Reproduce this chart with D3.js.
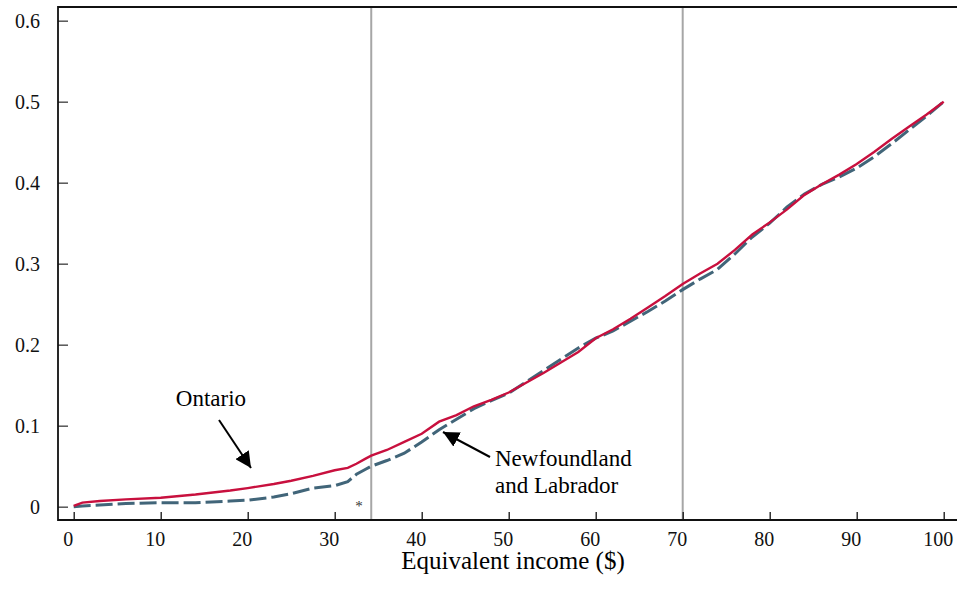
<!DOCTYPE html>
<html>
<head>
<meta charset="utf-8">
<script src="https://cdn.jsdelivr.net/npm/d3@7"></script>
<style>
  body { margin: 0; background: #fff; }
  svg { display: block; font-family: 'Liberation Serif', 'Times New Roman', serif; }
</style>
</head>
<body>
<script>
// income (x) values
const income = [0, 1, 3, 6, 10, 14, 18, 20, 23, 25, 27.5, 30, 31.5, 32.5, 33.5, 34.2, 36, 38, 40, 42, 44, 46, 48, 50,
  52, 54, 56, 58, 60, 62, 64, 66, 68, 70, 72, 74, 76, 78, 80, 82, 84, 86, 88, 90, 92, 94, 96, 98, 100];

const ontario = [0.001, 0.005, 0.007, 0.009, 0.011, 0.015, 0.020, 0.023, 0.028, 0.032, 0.038, 0.045, 0.048, 0.053,
  0.059, 0.063, 0.070, 0.080, 0.090, 0.105, 0.113, 0.124, 0.132, 0.141, 0.153, 0.165, 0.178, 0.191, 0.208, 0.219,
  0.232, 0.246, 0.260, 0.275, 0.288, 0.300, 0.317, 0.336, 0.351, 0.367, 0.385, 0.398, 0.410, 0.423, 0.438, 0.454,
  0.469, 0.484, 0.500];

const newfoundland = [0.000, 0.001, 0.002, 0.004, 0.005, 0.005, 0.007, 0.008, 0.012, 0.016, 0.023, 0.026, 0.031,
  0.040, 0.046, 0.050, 0.057, 0.066, 0.080, 0.095, 0.108, 0.121, 0.131, 0.140, 0.154, 0.168, 0.182, 0.196, 0.208,
  0.217, 0.229, 0.241, 0.254, 0.268, 0.281, 0.293, 0.312, 0.333, 0.350, 0.370, 0.386, 0.398, 0.407, 0.418, 0.432,
  0.448, 0.465, 0.482, 0.500];

const xTicks = [0, 10, 20, 30, 40, 50, 60, 70, 80, 90, 100];
const yTicks = [0, 0.1, 0.2, 0.3, 0.4, 0.5, 0.6];
const markers = [34.2, 70];

const W = 957;
const H = 589;
const frame = { left: 58, top: 7, right: 958, bottom: 520 };

const svg = d3.select('body')
  .append('svg')
  .attr('width', W)
  .attr('height', H);

const x = d3.scaleLinear().domain([0, 100]).range([73.7, 943.7]);
const y = d3.scaleLinear().domain([0, 0.6]).range([506.7, 20.7]);

// vertical reference lines
svg.selectAll('.marker')
  .data(markers)
  .enter().append('line')
  .attr('class', 'marker')
  .attr('x1', (d) => x(d))
  .attr('x2', (d) => x(d))
  .attr('y1', frame.top)
  .attr('y2', frame.bottom)
  .attr('stroke', '#a6a6a6')
  .attr('stroke-width', 2);

// axes
const yAxis = d3.axisLeft(y)
  .tickValues(yTicks)
  .tickFormat((d) => (d === 0 ? '0' : d3.format('.1f')(d)))
  .tickSizeInner(-10)
  .tickSizeOuter(0)
  .tickPadding(18);

const gy = svg.append('g')
  .attr('transform', `translate(${frame.left},0)`)
  .call(yAxis);
gy.select('.domain').remove();
gy.selectAll('.tick line').attr('stroke', '#555').attr('stroke-width', 1.5);
gy.selectAll('.tick text')
  .attr('fill', '#111')
  .style('font-size', '20px')
  .style('font-family', "'Liberation Serif', serif");

const xAxis = d3.axisBottom(x)
  .tickValues(xTicks)
  .tickFormat(d3.format('d'))
  .tickSizeInner(-8)
  .tickSizeOuter(0)
  .tickPadding(12);

const gx = svg.append('g')
  .attr('transform', `translate(0,${frame.bottom})`)
  .call(xAxis);
gx.select('.domain').remove();
gx.selectAll('.tick line').attr('stroke', '#111').attr('stroke-width', 1.3);
// labels sit a little left of their ticks in the original
gx.selectAll('.tick text')
  .attr('x', -6)
  .attr('fill', '#111')
  .style('font-size', '20px')
  .style('font-family', "'Liberation Serif', serif");

// frame: left, top, bottom
svg.append('path')
  .attr('d', `M${frame.right},${frame.top}H${frame.left}V${frame.bottom}H${frame.right}`)
  .attr('fill', 'none')
  .attr('stroke', '#111')
  .attr('stroke-width', 1.8);

// lines
const line = d3.line()
  .x((d) => x(d[0]))
  .y((d) => y(d[1]));

svg.append('path')
  .datum(d3.zip(income, newfoundland))
  .attr('d', line)
  .attr('fill', 'none')
  .attr('stroke', '#416579')
  .attr('stroke-width', 3)
  .attr('stroke-dasharray', '17,5');

svg.append('path')
  .datum(d3.zip(income, ontario))
  .attr('d', line)
  .attr('fill', 'none')
  .attr('stroke', '#c8103e')
  .attr('stroke-width', 2.4);

// annotations
svg.append('defs').append('marker')
  .attr('id', 'arrow')
  .attr('viewBox', '0 0 10 10')
  .attr('refX', 10)
  .attr('refY', 5)
  .attr('markerWidth', 8)
  .attr('markerHeight', 8)
  .attr('markerUnits', 'strokeWidth')
  .attr('orient', 'auto')
  .append('path')
  .attr('d', 'M0,0L10,5L0,10Z')
  .attr('fill', '#000');

svg.append('line')
  .attr('x1', 219).attr('y1', 420)
  .attr('x2', 251).attr('y2', 468)
  .attr('stroke', '#000')
  .attr('stroke-width', 2)
  .attr('marker-end', 'url(#arrow)');

svg.append('line')
  .attr('x1', 490).attr('y1', 457)
  .attr('x2', 443).attr('y2', 432)
  .attr('stroke', '#000')
  .attr('stroke-width', 2)
  .attr('marker-end', 'url(#arrow)');

svg.append('text')
  .attr('x', 211)
  .attr('y', 406)
  .attr('text-anchor', 'middle')
  .style('font-size', '23px')
  .text('Ontario');

svg.append('text')
  .attr('x', 495)
  .attr('y', 466)
  .style('font-size', '23px')
  .text('Newfoundland');

svg.append('text')
  .attr('x', 495)
  .attr('y', 493)
  .style('font-size', '23px')
  .text('and Labrador');

svg.append('text')
  .attr('x', 359)
  .attr('y', 511)
  .attr('text-anchor', 'middle')
  .attr('fill', '#333')
  .style('font-size', '15px')
  .text('*');

svg.append('text')
  .attr('x', 513)
  .attr('y', 569)
  .attr('text-anchor', 'middle')
  .style('font-size', '25px')
  .text('Equivalent income ($)');
</script>
</body>
</html>
